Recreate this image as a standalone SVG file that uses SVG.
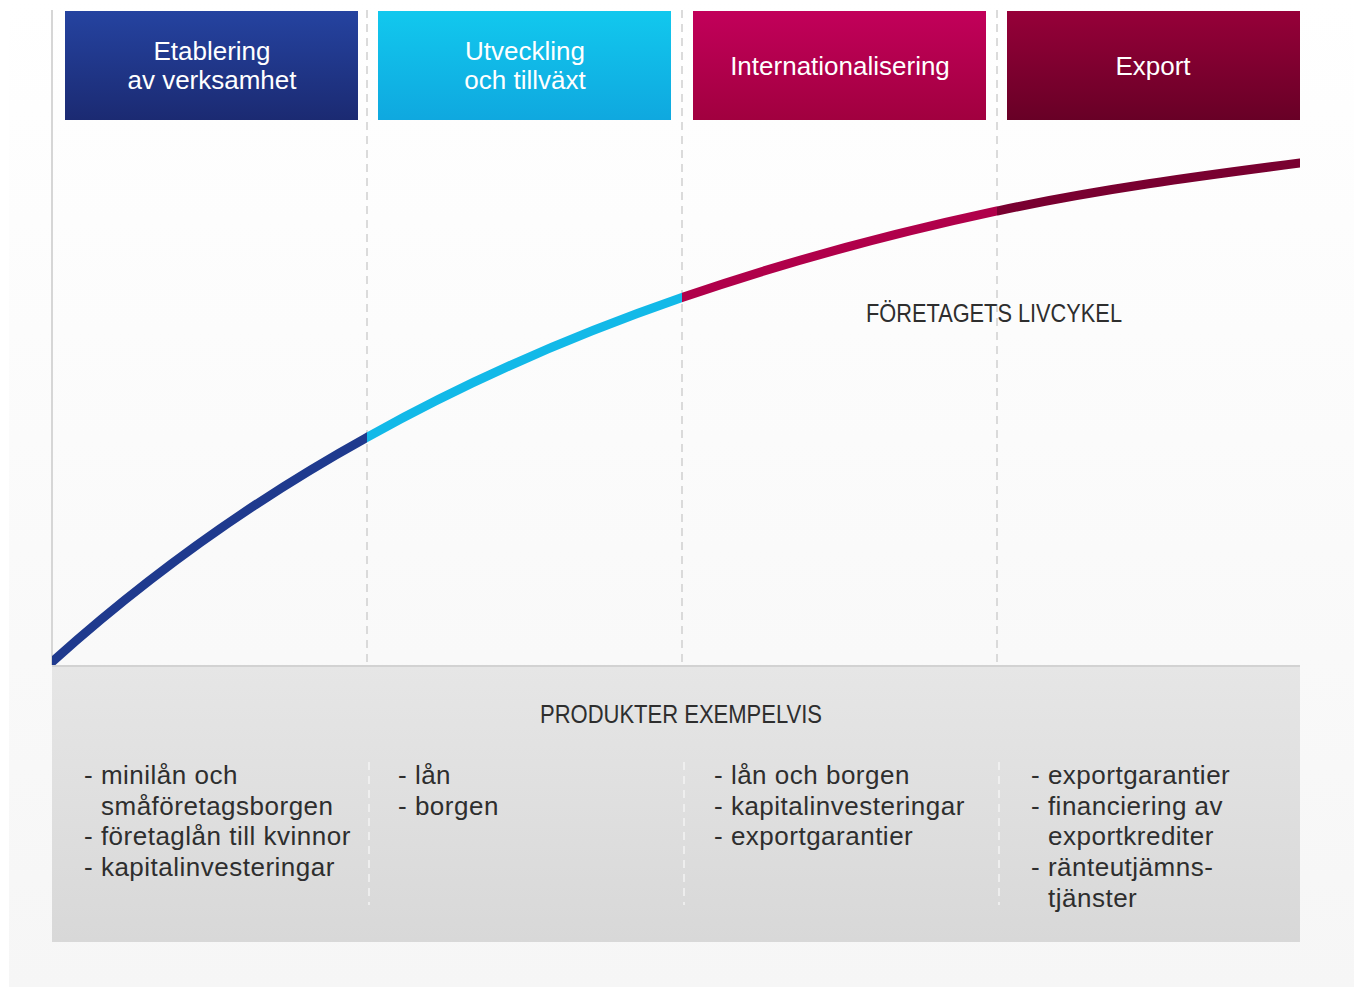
<svg xmlns="http://www.w3.org/2000/svg" width="1354" height="987" viewBox="0 0 1354 987">
<defs>
<linearGradient id="bg" x1="0" y1="0" x2="0" y2="1"><stop offset="0" stop-color="#ffffff"/><stop offset="1" stop-color="#f6f6f6"/></linearGradient>
<linearGradient id="gp" x1="0" y1="0" x2="0" y2="1"><stop offset="0" stop-color="#e6e6e6"/><stop offset="1" stop-color="#d8d8d8"/></linearGradient>
<linearGradient id="g1" x1="0" y1="0" x2="0" y2="1"><stop offset="0" stop-color="#2543a0"/><stop offset="1" stop-color="#1b2a72"/></linearGradient>
<linearGradient id="g2" x1="0" y1="0" x2="0" y2="1"><stop offset="0" stop-color="#12c8ee"/><stop offset="1" stop-color="#0fa8df"/></linearGradient>
<linearGradient id="g3" x1="0" y1="0" x2="0" y2="1"><stop offset="0" stop-color="#c2005a"/><stop offset="1" stop-color="#a1003f"/></linearGradient>
<linearGradient id="g4" x1="0" y1="0" x2="0" y2="1"><stop offset="0" stop-color="#960039"/><stop offset="1" stop-color="#680026"/></linearGradient>
<clipPath id="c1"><rect x="52" y="0" width="315" height="665"/></clipPath>
<clipPath id="c2"><rect x="367" y="0" width="315" height="665"/></clipPath>
<clipPath id="c3"><rect x="682" y="0" width="315" height="665"/></clipPath>
<clipPath id="c4"><rect x="997" y="0" width="303" height="665"/></clipPath>
<path id="curve" d="M40,673 L52,662 C157,567.6 262,495.5 367,437.4 C472,378.5 577,333.9 682,297.6 C787,261.3 892,233.5 997,211 C1098,189.4 1199,176 1300,163 L1320,160.5"/>
</defs>
<style>
.hd{font-family:"Liberation Sans",Arial,sans-serif;font-size:26px;fill:#ffffff;text-anchor:middle}
.ttl{font-family:"Liberation Sans",Arial,sans-serif;font-size:25px;fill:#2e2e2e;text-anchor:middle}
.li{font-family:"Liberation Sans",Arial,sans-serif;font-size:26px;letter-spacing:0.5px;fill:#2e2e2e}
.dv{stroke:#cfcfcf;stroke-width:1.5;stroke-dasharray:8 6;fill:none}
.dw{stroke:#f4f4f4;stroke-width:1.5;stroke-dasharray:8 6;fill:none}
.cv{fill:none;stroke-width:9;stroke-linecap:butt}
</style>
<rect x="0" y="0" width="1354" height="987" fill="#ffffff"/>
<rect x="9" y="0" width="1345" height="987" fill="url(#bg)"/>

<g id="axis">
<line x1="52" y1="10" x2="52" y2="665" stroke="#d6d6d6" stroke-width="2"/>
</g>

<g id="connectors">
<line class="dv" x1="367" y1="10" x2="367" y2="662"/>
<line class="dv" x1="682" y1="10" x2="682" y2="662"/>
<line class="dv" x1="997" y1="10" x2="997" y2="662"/>
</g>

<g id="products-panel">
<rect x="52" y="665" width="1248" height="277" fill="url(#gp)"/>
<line x1="52" y1="666" x2="1300" y2="666" stroke="#d2d2d2" stroke-width="2"/>
<line class="dw" x1="369" y1="762" x2="369" y2="905"/>
<line class="dw" x1="684" y1="762" x2="684" y2="905"/>
<line class="dw" x1="999" y1="762" x2="999" y2="905"/>
<text class="ttl" x="681" y="723" textLength="282" lengthAdjust="spacingAndGlyphs">PRODUKTER EXEMPELVIS</text>
</g>

<g id="lifecycle-curve">
<use href="#curve" class="cv" stroke="#1f3a8e" clip-path="url(#c1)"/>
<use href="#curve" class="cv" stroke="#12b9e8" clip-path="url(#c2)"/>
<use href="#curve" class="cv" stroke="#b0004a" clip-path="url(#c3)"/>
<use href="#curve" class="cv" stroke="#790030" clip-path="url(#c4)"/>
<text class="ttl" x="994" y="322" textLength="256" lengthAdjust="spacingAndGlyphs">FÖRETAGETS LIVCYKEL</text>
</g>

<g id="node-etablering">
<rect x="65" y="11" width="293" height="109" fill="url(#g1)"/>
<text class="hd" x="212" y="60">Etablering</text>
<text class="hd" x="212" y="89">av verksamhet</text>
</g>
<g id="node-utveckling">
<rect x="378" y="11" width="293" height="109" fill="url(#g2)"/>
<text class="hd" x="525" y="60">Utveckling</text>
<text class="hd" x="525" y="89">och tillväxt</text>
</g>
<g id="node-internationalisering">
<rect x="693" y="11" width="293" height="109" fill="url(#g3)"/>
<text class="hd" x="840" y="75">Internationalisering</text>
</g>
<g id="node-export">
<rect x="1007" y="11" width="293" height="109" fill="url(#g4)"/>
<text class="hd" x="1153" y="75">Export</text>
</g>

<g id="list-etablering">
<text class="li" x="84" y="784">- minilån och</text>
<text class="li" x="101" y="815">småföretagsborgen</text>
<text class="li" x="84" y="845">- företaglån till kvinnor</text>
<text class="li" x="84" y="876">- kapitalinvesteringar</text>
</g>
<g id="list-utveckling">
<text class="li" x="398" y="784">- lån</text>
<text class="li" x="398" y="815">- borgen</text>
</g>
<g id="list-internationalisering">
<text class="li" x="714" y="784">- lån och borgen</text>
<text class="li" x="714" y="815">- kapitalinvesteringar</text>
<text class="li" x="714" y="845">- exportgarantier</text>
</g>
<g id="list-export">
<text class="li" x="1031" y="784">- exportgarantier</text>
<text class="li" x="1031" y="815">- financiering av</text>
<text class="li" x="1048" y="845">exportkrediter</text>
<text class="li" x="1031" y="876">- ränteutjämns-</text>
<text class="li" x="1048" y="907">tjänster</text>
</g>
</svg>
